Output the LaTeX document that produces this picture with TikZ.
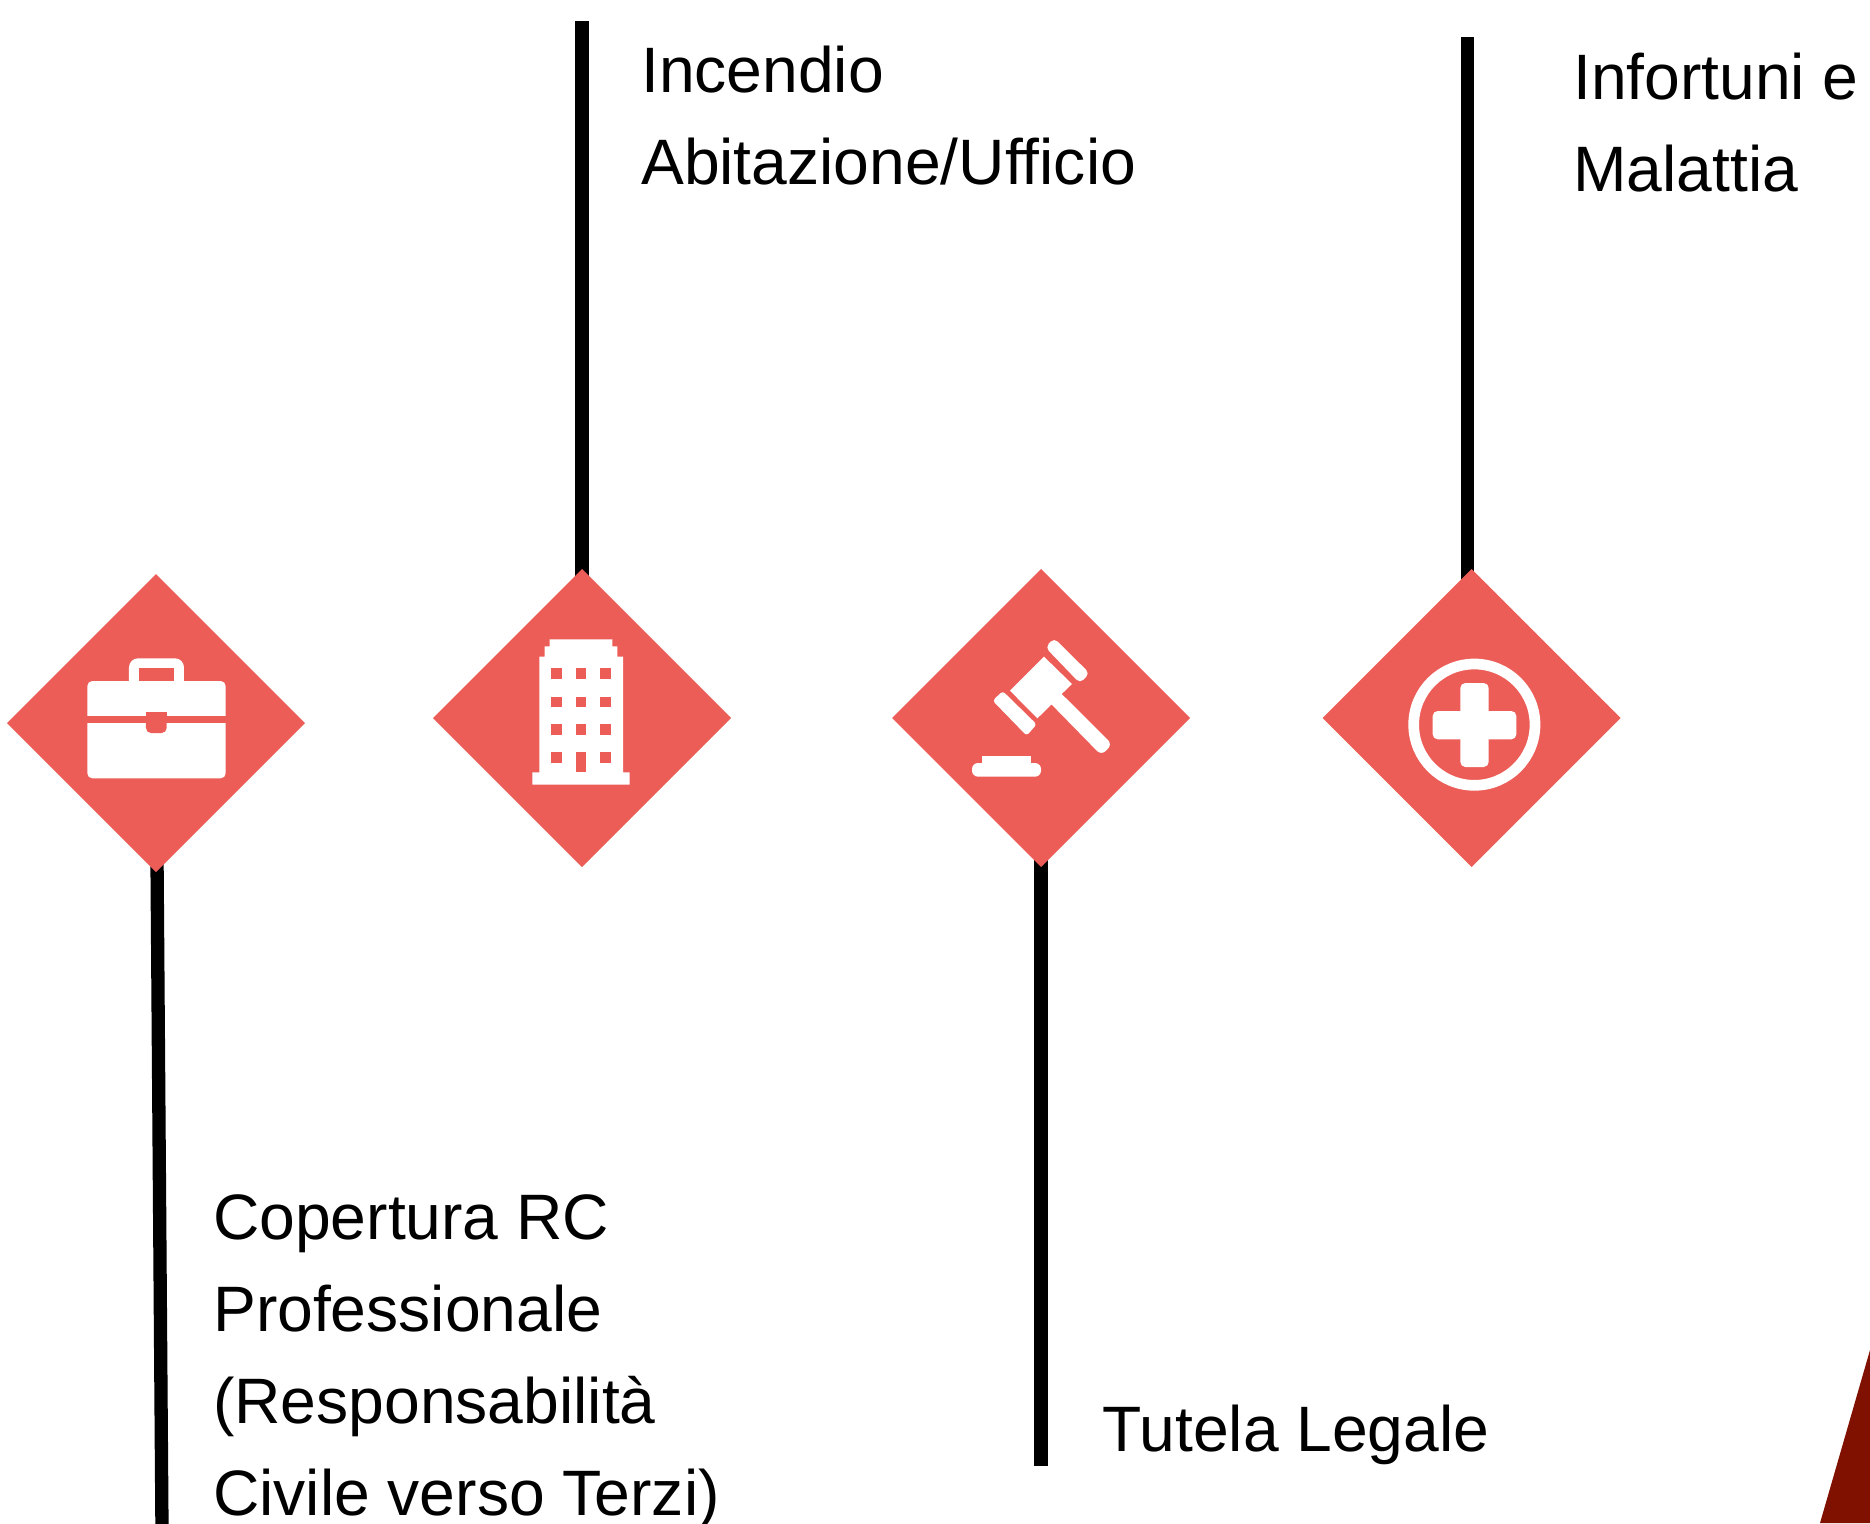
\documentclass[tikz,border=0pt]{standalone}
\usepackage{fontspec}
\usepackage{xcolor}
\setmainfont[Ligatures=NoCommon]{Liberation Sans}
\usetikzlibrary{shapes.geometric,backgrounds}
\definecolor{riskred}{HTML}{ED5D57}
\definecolor{cornerred}{HTML}{801000}

\begin{document}
\begin{tikzpicture}[
    x=1pt, y=-1pt,
    node distance=430pt,
    riskbox/.style={shape=diamond, aspect=1, fill=riskred, minimum size=298pt, inner sep=0pt, outer sep=0pt},
    stem/.style={line width=13.3pt, draw=black},
    risktext/.style={anchor=north west, align=left, inner sep=0pt, font=\fontsize{64.2}{92}\selectfont},
    iconwhite/.style={fill=white},
    iconred/.style={fill=riskred}
]
    \useasboundingbox (0,0) rectangle (1870,1523);

    % Place nodes
    \node[riskbox] (briefcase) at (156,723) {};
    \node[riskbox, right of=briefcase, xshift=-4pt, yshift=5pt] (building) {};
    \node[riskbox, right of=building, xshift=29pt] (gavel) {};
    \node[riskbox, right of=gavel, xshift=0.5pt] (health) {};

    \coordinate (endbriefcase) at (162,1530);
    \coordinate (endbuilding) at (582,21);
    \coordinate (endgavel) at (1041,1466);
    \coordinate (endhealth) at (1467.7,37);

    % Add connections
    \begin{scope}[on background layer]
        \draw[stem] (briefcase.center) -- (endbriefcase);
        \draw[stem] (building.center) -- (endbuilding);
        \draw[stem] (gavel.center) -- (endgavel);
        \draw[stem] (endhealth) -- (endhealth |- health.center);
    \end{scope}

    % Add texts
    \node[risktext] (incendio) at (641,46) {Incendio\\Abitazione/Ufficio};
    \node[risktext] (infortuni) at (1573,52.5) {Infortuni e\\Malattia};
    \node[risktext] (copertura) at (213,1194.5) {Copertura RC\\Professionale\\(Responsabilità\\Civile verso Terzi)};
    \node[risktext] (tutela) at (1102.5,1404.5) {Tutela Legale};

    % Briefcase icon
    \begin{scope}[shift={(0,560)}, scale=1/3]
        \fill[iconwhite, rounded corners=9pt] (387,400) -- (387,295) -- (552,295) -- (552,400) -- cycle;
        \fill[iconred] (418,325) rectangle (521,380);
        \fill[iconwhite, rounded corners=5pt] (262,363) rectangle (677,655);
        \fill[iconred] (262,468) rectangle (677,488);
        \fill[iconred, rounded corners=5pt] (438,470) -- (500,470) -- (500,519) -- (438,519) -- cycle;
        \fill[iconred] (438,457) rectangle (500,475);
    \end{scope}

    % Building icon
    \begin{scope}[shift={(420,560)}, scale=1/3]
        \fill[iconwhite] (389,238) -- (577,238) -- (577,259) -- (592,259) -- (592,290) -- (609,290)
            -- (609,637) -- (629,637) -- (629,674) -- (337,674) -- (337,637) -- (358,637)
            -- (358,290) -- (374,290) -- (374,259) -- (389,259) -- cycle;
        \foreach \wy in {325,410,492,576} {
            \foreach \wx in {394,467,540} {
                \fill[iconred] (\wx,\wy) rectangle ++(32,32);
            }
        }
        \fill[iconred] (467,576) rectangle (499,637);
    \end{scope}

    % Gavel icon
    \begin{scope}[shift={(880,560)}, scale=1/3]
        \fill[iconwhite] (492,290) -- (576,372) -- (545,402) -- (515,433) -- (472,475) -- (390,392) -- cycle;
        \fill[iconwhite, rounded corners=6pt] (515,372) -- (697,553) -- (664,586) -- (485,403) -- cycle;
        \fill[iconwhite, rounded corners=5pt] (522,234) -- (629,340) -- (600,370) -- (496,262) -- cycle;
        \fill[iconwhite, rounded corners=3pt] (368,393) -- (470,493) -- (440,527) -- (338,422) -- cycle;
        \fill[iconwhite] (307,589) rectangle (452,615);
        \fill[iconwhite, rounded corners=6pt] (276,609) rectangle (483,650);
    \end{scope}

    % Health icon
    \begin{scope}[shift={(1310,560)}, scale=1/3]
        \draw[white, line width=10.7pt] (493,494) circle [radius=182];
        \fill[iconwhite, rounded corners=5pt] (368,453) rectangle (619,538);
        \fill[iconwhite, rounded corners=5pt] (451,369) rectangle (536,621);
    \end{scope}

    % Corner shape
    \fill[cornerred] (1870,1350) -- (1820,1523) -- (1870,1523) -- cycle;
\end{tikzpicture}
\end{document}
